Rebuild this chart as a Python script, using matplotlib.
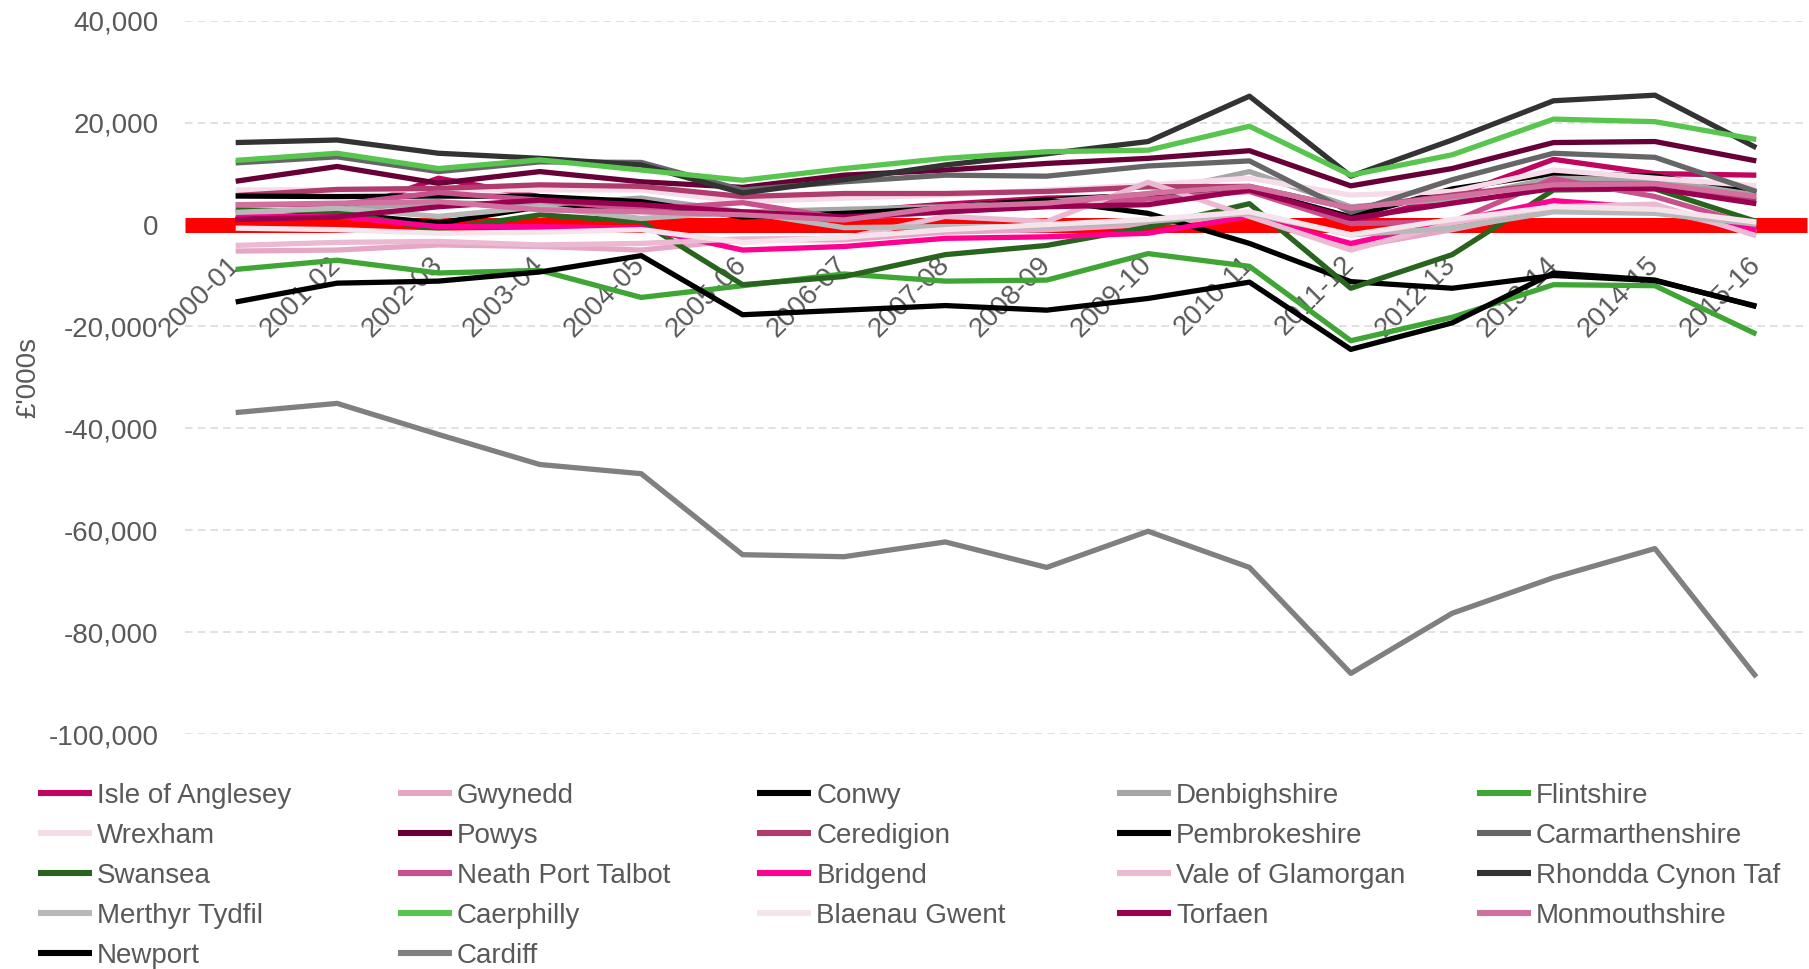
import matplotlib
matplotlib.use('Agg')
import matplotlib.pyplot as plt
from matplotlib.ticker import FuncFormatter, FixedLocator

plt.rcParams['font.family'] = ['Liberation Sans', 'DejaVu Sans']

# ---------------- data ----------------
years = ['2000-01', '2001-02', '2002-03', '2003-04', '2004-05', '2005-06', '2006-07', '2007-08',
         '2008-09', '2009-10', '2010-11', '2011-12', '2012-13', '2013-14', '2014-15', '2015-16']

councils = ['Isle of Anglesey', 'Gwynedd', 'Conwy', 'Denbighshire', 'Flintshire',
            'Wrexham', 'Powys', 'Ceredigion', 'Pembrokeshire', 'Carmarthenshire',
            'Swansea', 'Neath Port Talbot', 'Bridgend', 'Vale of Glamorgan', 'Rhondda Cynon Taf',
            'Merthyr Tydfil', 'Caerphilly', 'Blaenau Gwent', 'Torfaen', 'Monmouthshire',
            'Newport', 'Cardiff']

isle_of_anglesey = [1000, 2000, 9100, 5500, 4000, 2000, 2500, 4000, 5200, 5500, 6800, 500, 5500, 12800, 10000, 9700]
gwynedd = [-5200, -5000, -4000, -4300, -5000, -3000, -3000, -1500, -1000, 0, 2000, -4500, -1000, 3000, 3000, -1500]
conwy = [1000, 2200, 300, 3500, 3000, 2500, 2500, 3500, 4800, 5900, 6900, 1500, 7000, 10000, 9500, 6300]
denbighshire = [2500, 3000, 4300, 3900, 5200, 2500, 3000, 3500, 4500, 6000, 10400, 3500, 5000, 9100, 8800, 5800]
flintshire = [-8800, -7000, -9500, -9000, -14300, -12000, -9700, -11100, -10900, -5700, -8200, -22800, -18200, -11800, -12000, -21500]
wrexham = [6800, 6800, 6800, 6800, 6800, 4500, 5200, 5800, 6800, 7800, 9100, 5800, 6500, 10700, 9100, 7600]
powys = [8500, 11400, 8100, 10400, 8400, 7300, 9700, 10700, 12000, 13000, 14500, 7600, 11000, 16100, 16300, 12500]
ceredigion = [5700, 6900, 7100, 7800, 7500, 5500, 6100, 6100, 6500, 7400, 7500, 3200, 5800, 8000, 8000, 4800]
pembrokeshire = [5600, 5500, 5600, 5500, 4500, 1500, 2200, 3200, 4800, 2200, -3700, -11200, -12500, -10000, -11000, -16000]
carmarthenshire = [12100, 13300, 10400, 12300, 12200, 6800, 8400, 9700, 9500, 11500, 12500, 2400, 8800, 14000, 13200, 6500]
swansea = [2900, 2500, -1000, 1900, 600, -11800, -10200, -5900, -4100, -500, 4100, -12500, -5900, 6800, 7000, 600]
neath_port_talbot = [3900, 3900, 6300, 4800, 3000, 4300, 1200, 2500, 3800, 5000, 6500, 200, 500, 9000, 5500, -300]
bridgend = [1500, 1600, -400, -400, -700, -5000, -4300, -2700, -2400, -1700, 1600, -3700, 600, 4700, 3200, -1200]
vale_of_glamorgan = [-4100, -3500, -3300, -4000, -3700, -2800, -2700, 1600, 600, 8300, 1600, -5000, 300, 3500, 4000, -2200]
rhondda_cynon_taf = [16100, 16600, 14000, 13000, 11700, 6200, 8800, 11700, 13900, 16300, 25200, 9500, 16600, 24300, 25400, 15100]
merthyr_tydfil = [2400, 3200, 1600, 3500, 1200, 2500, -600, -400, -400, 600, 2200, -2000, -700, 2500, 2200, 100]
caerphilly = [12600, 14000, 11000, 12700, 10700, 8700, 11000, 13000, 14300, 14600, 19300, 9700, 13700, 20700, 20200, 16700]
blaenau_gwent = [-700, -1000, -1700, -1500, -1000, -3500, -2500, -1000, 0, 1000, 2500, -2000, 1000, 3500, 3000, 500]
torfaen = [1000, 1500, 3500, 4800, 3900, 2500, 1500, 2500, 3500, 3900, 6800, 1200, 4200, 7100, 7100, 4100]
monmouthshire = [3900, 4200, 4500, 2900, 2500, 1900, 900, 3500, 4200, 6100, 7500, 3200, 5500, 7800, 8000, 5500]
newport = [-15200, -11500, -11100, -9300, -6100, -17700, -16800, -15900, -16800, -14500, -11300, -24500, -19300, -9500, -10900, -16100]
cardiff = [-36900, -35100, -41200, -47100, -48900, -64800, -65200, -62300, -67300, -60200, -67300, -88100, -76300, -69300, -63600, -88800]

series = [isle_of_anglesey, gwynedd, conwy, denbighshire, flintshire,
          wrexham, powys, ceredigion, pembrokeshire, carmarthenshire,
          swansea, neath_port_talbot, bridgend, vale_of_glamorgan, rhondda_cynon_taf,
          merthyr_tydfil, caerphilly, blaenau_gwent, torfaen, monmouthshire,
          newport, cardiff]

colors = ['#c0045f', '#e6a6c5', '#000000', '#a6a6a6', '#3fa535',
          '#f5dce8', '#660036', '#b03c6e', '#000000', '#666666',
          '#28641e', '#c8508c', '#ff0090', '#ebb9d2', '#333333',
          '#b8b8b8', '#58c64e', '#f5e4ec', '#990050', '#d2709f',
          '#000000', '#808080']

y_ticks = [-100000, -80000, -60000, -40000, -20000, 0, 20000, 40000]

# ---------------- figure ----------------
W, H = 1809, 969
fig = plt.figure(figsize=(W / 100, H / 100), dpi=100)
ax_left, ax_right, ax_top, ax_bottom = 185, 1807, 20.8, 734
ax = fig.add_axes([ax_left / W, 1 - ax_bottom / H, (ax_right - ax_left) / W, (ax_bottom - ax_top) / H])

text_col = '#595959'
xs = list(range(len(years)))
handles = []
for name, vals, col in zip(councils, series, colors):
    h, = ax.plot(xs, vals, color=col, lw=3.8, zorder=3, label=name, solid_capstyle='butt')
    handles.append(h)

ax.set_xlim(-0.5, len(years) - 0.5)
ax.set_ylim(-100000, 40000)
ax.yaxis.set_major_locator(FixedLocator(y_ticks))
ax.yaxis.set_major_formatter(FuncFormatter(lambda v, p: f'{int(v):,}'))

for s in ['top', 'right', 'left']:
    ax.spines[s].set_visible(False)
ax.spines['bottom'].set_position(('data', 0))
ax.spines['bottom'].set_color('#ff0000')
ax.spines['bottom'].set_linewidth(10.8)
ax.spines['bottom'].set_capstyle('butt')
ax.spines['bottom'].set_zorder(2)

ax.grid(axis='y', color='#d9d9d9', linestyle=(0, (5, 3.3)), lw=1.1)
ax.set_axisbelow(True)

ax.set_xticks(xs)
ax.set_xticklabels(years, rotation=45, ha='right', va='center', rotation_mode='anchor')
ax.tick_params(axis='x', length=0, pad=26, labelsize=20, labelcolor=text_col)
ax.tick_params(axis='y', length=0, pad=19, labelsize=20, labelcolor=text_col)

ax.set_ylabel("£'000s", fontsize=20, color=text_col)
ax.yaxis.set_label_coords((41 - ax_left) / (ax_right - ax_left), 0.5)

# legend: 5 equally spaced columns, row-major order as in the reference
ncol = 5
col_x0, col_pitch = 38, 359.7
for c in range(ncol):
    idx = list(range(c, len(councils), ncol))
    leg = fig.legend([handles[i] for i in idx], [councils[i] for i in idx],
                     loc='upper left', bbox_to_anchor=((col_x0 + col_pitch * c) / W, 1 - 783 / H),
                     frameon=False, fontsize=20, handlelength=1.94, handletextpad=0.18,
                     labelspacing=0.50, borderpad=0, borderaxespad=0, labelcolor=text_col)
    for lh in leg.get_lines():
        lh.set_linewidth(4.4)

fig.savefig('out.png', dpi=100)
